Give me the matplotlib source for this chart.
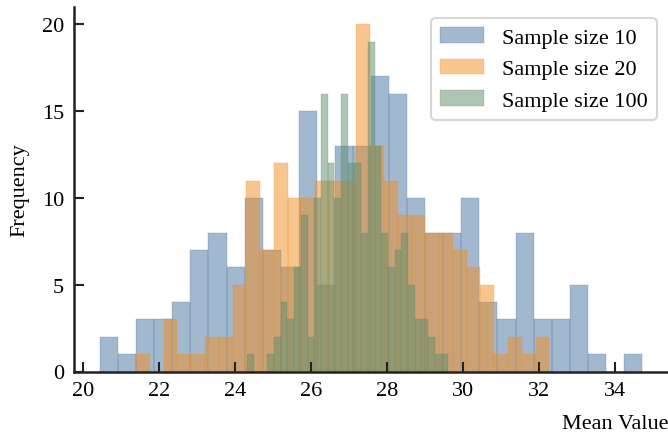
import numpy as np
import matplotlib
matplotlib.use("Agg")
import matplotlib.pyplot as plt

plt.rcParams['font.family'] = ['Liberation Serif', 'DejaVu Serif']
plt.rcParams['font.size'] = 16

labels = ["Sample size 10", "Sample size 20", "Sample size 100"]
colors = ["#47739f", "#f38d1f", "#5f8d6b"]

# histogram bin ranges (min, max of the means) and counts per bin (30 bins each)
range_10 = (20.447, 34.705)
counts_10 = [2, 1, 3, 3, 4, 7, 8, 6, 10, 7, 6, 15, 5, 13, 13, 17, 16, 10, 8, 8,
             10, 4, 3, 8, 3, 3, 5, 1, 0, 1]
range_20 = (21.395, 32.266)
counts_20 = [1, 0, 3, 1, 1, 2, 2, 5, 11, 7, 12, 10, 10, 11, 11, 11, 20, 13, 11, 9,
             9, 8, 8, 7, 6, 5, 1, 2, 1, 2]
range_100 = (24.318, 29.608)
counts_100 = [1, 0, 0, 1, 2, 4, 3, 6, 9, 2, 10, 16, 12, 10, 16, 12, 12, 8, 19, 13,
              8, 6, 7, 8, 5, 3, 3, 2, 1, 1]

x_ticks = [20, 22, 24, 26, 28, 30, 32, 34]
y_ticks = [0, 5, 10, 15, 20]

W, H = 668, 435
fig = plt.figure(figsize=(W / 100, H / 100), dpi=100)
ax = fig.add_axes([74 / W, (H - 372.5) / H, (668 - 74) / W, (372.5 - 8) / H])

for rng, cnt, col, lab in zip([range_10, range_20, range_100],
                              [counts_10, counts_20, counts_100], colors, labels):
    edges = np.linspace(rng[0], rng[1], len(cnt) + 1)
    ax.hist(edges[:-1], bins=edges, weights=cnt, color=col, alpha=0.5,
            edgecolor=col, linewidth=0.35, label=lab)

ax.set_xlim(19.76, 35.39)
ax.set_ylim(0, 21)
ax.set_xticks(x_ticks)
ax.set_yticks(y_ticks)
ax.tick_params(direction='in', length=7, width=1.5, color='#222222', pad=7,
               labelsize=16)
for s in ['top', 'right']:
    ax.spines[s].set_visible(False)
for s in ['left', 'bottom']:
    ax.spines[s].set_linewidth(1.8)
    ax.spines[s].set_color('#222222')

ax.set_xlabel("Mean Value", loc='right', fontsize=16, labelpad=10)
ax.set_ylabel("Frequency", fontsize=16, labelpad=9)

leg = ax.legend(loc='upper right', fontsize=16, frameon=True, fancybox=True)
leg.get_frame().set_edgecolor('#cccccc')
leg.get_frame().set_linewidth(1.5)

fig.savefig("out.png", dpi=100)
